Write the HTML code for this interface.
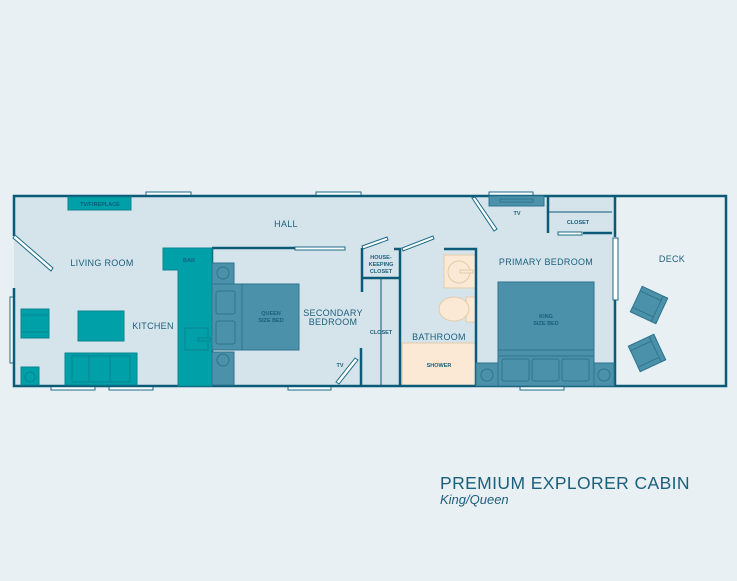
<!DOCTYPE html>
<html><head><meta charset="utf-8"><style>
html,body{margin:0;padding:0;background:#e8f0f3;}
svg{display:block}
text{font-family:"Liberation Sans",sans-serif;fill:#1b5f7c;}
</style></head><body>
<svg width="737" height="581" viewBox="0 0 737 581">
<rect width="737" height="581" fill="#e8f0f3"/>
<rect x="14" y="196" width="602" height="190" fill="#d5e4eb"/>
<rect x="616" y="196" width="110" height="190" fill="#e8f0f3"/>
<g fill="#fff" stroke="#1b6a86" stroke-width="1">
<rect x="146" y="192" width="45" height="4"/>
<rect x="316" y="192" width="45" height="4"/>
<rect x="489" y="192" width="44" height="4"/>
<rect x="51" y="386" width="44" height="4"/>
<rect x="109" y="386" width="44" height="4"/>
<rect x="288" y="386" width="43" height="4"/>
<rect x="520" y="386" width="44" height="4"/>
<rect x="10" y="297" width="4" height="66"/>
<rect x="613" y="238" width="5" height="62"/>
<rect x="295" y="247" width="50" height="3"/>
<rect x="558" y="232" width="24" height="3"/>
</g>
<g fill="#fbe9d6" stroke="#e3cba9" stroke-width="1">
<rect x="402" y="343" width="74" height="43"/>
<rect x="444" y="255" width="32" height="33"/>
<rect x="466" y="297" width="10" height="25"/>
<ellipse cx="454" cy="309" rx="15" ry="12"/>
<circle cx="459" cy="272" r="11" fill="none"/>
<rect x="460" y="270" width="13" height="3"/>
</g>
<g stroke="#0b5a78" stroke-width="2.5" fill="none">
<path d="M14 236 V196 H726 V386 H14 V288"/>
<line x1="212" y1="248" x2="295" y2="248"/>
<line x1="212" y1="248" x2="212" y2="386"/>
<path d="M362 292 V248 M362 278 H400 M361 348 V386"/>
<path d="M394 249 H400 V386"/>
<path d="M444 249 H476 V386"/>
<path d="M548 196 V233 M583 233 H612"/>
<path d="M615 196 V237 M615 300 V386"/>
</g>
<g stroke="#0b5a78" stroke-width="1" fill="none">
<line x1="381" y1="278" x2="381" y2="386"/>
<line x1="548" y1="212" x2="612" y2="212"/>
</g>
<g stroke="#1b6a86" stroke-width="1" fill="#fff">
<polygon points="15,235 53,268 51,271 13,238"/>
<polygon points="362,246 387,237 388,240 363,249"/>
<polygon points="402,248 433,236 434,239 403,251"/>
<polygon points="472,198 475,197 497,229 494,231"/>
<polygon points="336,382 355,358 358,360 339,384"/>
</g>
<g fill="#00a0a8" stroke="#0b8590" stroke-width="1">
<rect x="68" y="197" width="63" height="13"/>
<path d="M163 248 H212 V386 H178 V270 H163 Z"/>
<rect x="185" y="328" width="23" height="22"/>
<rect x="198" y="338" width="12" height="3"/>
<rect x="21" y="309" width="28" height="29"/>
<rect x="21" y="309" width="28" height="6"/>
<rect x="21" y="332" width="28" height="6"/>
<rect x="78" y="311" width="46" height="30"/>
<rect x="65" y="353" width="72" height="32"/>
<rect x="72" y="356" width="58" height="26"/>
<line x1="89" y1="356" x2="89" y2="382"/>
<line x1="110" y1="356" x2="110" y2="382"/>
<rect x="21" y="367" width="18" height="18"/>
<circle cx="30" cy="377" r="5" fill="none"/>
</g>
<g fill="#4a91a9" stroke="#2f7590" stroke-width="1">
<rect x="212" y="263" width="22" height="21"/>
<circle cx="223" cy="273" r="6" fill="none"/>
<rect x="212" y="352" width="22" height="33"/>
<circle cx="223" cy="360" r="6" fill="none"/>
<rect x="212" y="284" width="30" height="66"/>
<rect x="216" y="291" width="19" height="23" rx="2"/>
<rect x="216" y="321" width="19" height="23" rx="2"/>
<rect x="242" y="284" width="57" height="66"/>
<rect x="498" y="282" width="96" height="68"/>
<rect x="498" y="350" width="96" height="6"/>
<rect x="476" y="363" width="138" height="23"/>
<rect x="498" y="356" width="96" height="30"/>
<rect x="502" y="359" width="27" height="22" rx="2"/>
<rect x="532" y="359" width="27" height="22" rx="2"/>
<rect x="562" y="359" width="27" height="22" rx="2"/>
<circle cx="487" cy="375" r="6" fill="none"/>
<circle cx="604" cy="375" r="6" fill="none"/>
<rect x="489" y="196" width="55" height="10"/>
<rect x="500" y="199" width="33" height="3" fill="none"/>
<g transform="translate(649,305) rotate(25)"><rect x="-14" y="-14" width="28" height="28"/><rect x="-14" y="-14" width="28" height="5"/><rect x="-14" y="9" width="28" height="5"/><rect x="9" y="-14" width="5" height="28"/></g>
<g transform="translate(647,353) rotate(-25)"><rect x="-14" y="-14" width="28" height="28"/><rect x="-14" y="-14" width="28" height="5"/><rect x="-14" y="9" width="28" height="5"/><rect x="9" y="-14" width="5" height="28"/></g>
</g>
<g font-size="9" text-anchor="middle" letter-spacing="0.3">
<text x="286" y="227">HALL</text>
<text x="102" y="266">LIVING ROOM</text>
<text x="153" y="329">KITCHEN</text>
<text x="333" y="316">SECONDARY</text>
<text x="333" y="325">BEDROOM</text>
<text x="439" y="340">BATHROOM</text>
<text x="546" y="265">PRIMARY BEDROOM</text>
<text x="672" y="262">DECK</text>
</g>
<g font-size="5.5" font-weight="bold" text-anchor="middle">
<text x="100" y="206" style="fill:#0b5a78">TV/FIREPLACE</text>
<text x="189" y="262">BAR</text>
<text x="271" y="315">QUEEN</text>
<text x="271" y="322">SIZE BED</text>
<text x="546" y="318">KING</text>
<text x="546" y="325">SIZE BED</text>
<text x="381" y="259">HOUSE-</text>
<text x="381" y="266">KEEPING</text>
<text x="381" y="273">CLOSET</text>
<text x="381" y="334">CLOSET</text>
<text x="439" y="367">SHOWER</text>
<text x="578" y="224">CLOSET</text>
<text x="517" y="215">TV</text>
<text x="340" y="367">TV</text>
</g>
<text x="440" y="489" font-size="17.5" letter-spacing="0.4">PREMIUM EXPLORER CABIN</text>
<text x="440" y="504" font-size="13" font-style="italic">King/Queen</text>
</svg>
</body></html>
